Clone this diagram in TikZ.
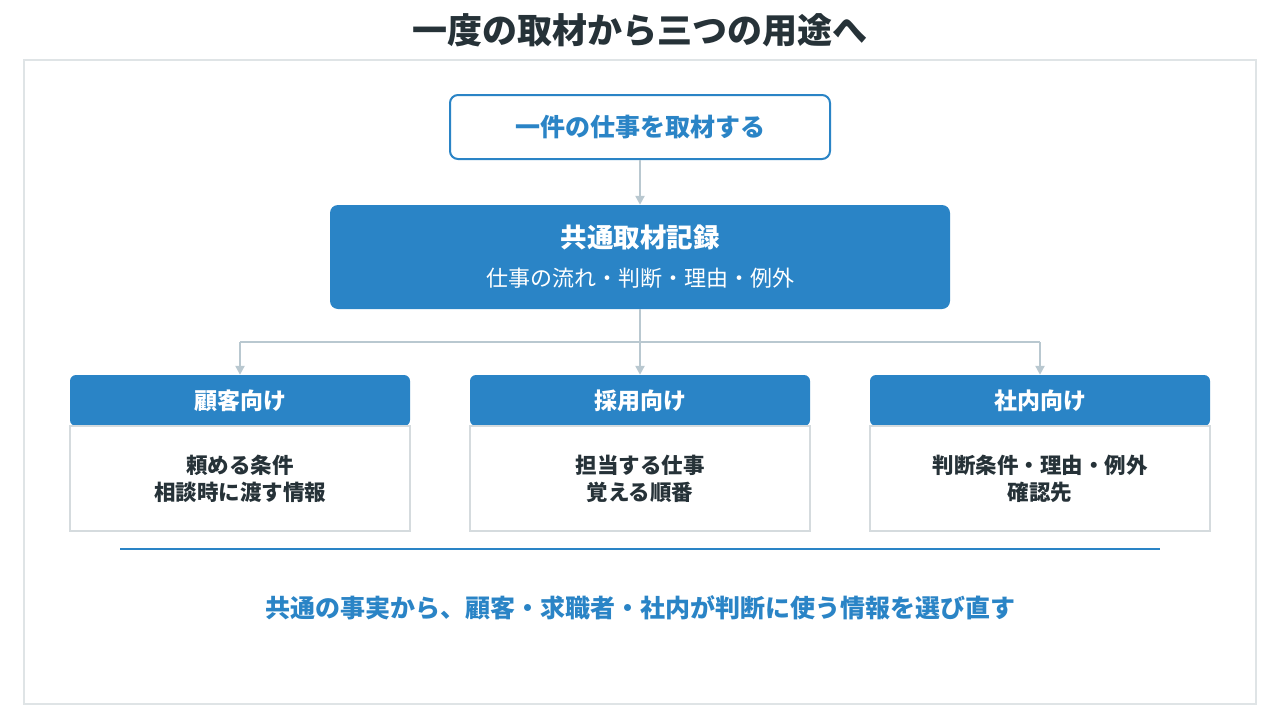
\documentclass[tikz,border=0pt]{standalone}
\usepackage{fontspec}
\setmainfont{Noto Sans CJK JP}
\usetikzlibrary{arrows.meta}
\definecolor{mainblue}{HTML}{2A84C6}
\definecolor{darktext}{HTML}{263238}
\definecolor{arrowgray}{HTML}{B9C8D0}
\definecolor{framegray}{HTML}{DFE4E6}
\definecolor{boxgray}{HTML}{D5DBDE}
\tikzset{
  x=1pt, y=-1pt,
  conn/.style={draw=arrowgray, line width=2.5pt, -{Triangle[length=9pt,width=9pt]}},
  line/.style={draw=arrowgray, line width=2.5pt},
  headbox/.style={fill=mainblue, rounded corners=6pt, minimum width=340pt, minimum height=51pt, text=white, font=\fontsize{23}{26}\selectfont\bfseries, inner sep=0pt},
  bodybox/.style={draw=boxgray, fill=white, line width=2pt, minimum width=340pt, minimum height=105pt, text=darktext, font=\fontsize{21.5}{27}\selectfont\bfseries, align=center, inner sep=0pt},
}
\begin{document}
\begin{tikzpicture}
\useasboundingbox (0,0) rectangle (1280,720);
\fill[white] (0,0) rectangle (1280,720);
\node[text=darktext, font=\fontsize{35}{38}\selectfont\bfseries] (title) at (640,30) {一度の取材から三つの用途へ};
\draw[framegray, line width=2pt] (24,60) rectangle (1256,704);
\node[draw=mainblue, line width=2pt, fill=white, rounded corners=8pt, minimum width=380pt, minimum height=64pt, inner sep=0pt, text=mainblue, font=\fontsize{25}{28}\selectfont\bfseries] (src) at (640,127) {一件の仕事を取材する};
\node[fill=mainblue, rounded corners=8pt, minimum width=620pt, minimum height=104pt, inner sep=0pt] (rec) at (640,257) {};
\node[text=white, font=\fontsize{26.5}{30}\selectfont\bfseries] (rect) at (640,237) {共通取材記録};
\node[text=white, font=\fontsize{22}{25}\selectfont] (recs) at (640,278) {仕事の流れ・判断・理由・例外};
\draw[conn] (src.south) -- (rec.north);
\node[headbox] (h1) at (240,400.5) {顧客向け};
\node[headbox] (h2) at (640,400.5) {採用向け};
\node[headbox] (h3) at (1040,400.5) {社内向け};
\node[bodybox] (b1) at (240,478.5) {頼める条件\\相談時に渡す情報};
\node[bodybox] (b2) at (640,478.5) {担当する仕事\\覚える順番};
\node[bodybox] (b3) at (1040,478.5) {判断条件・理由・例外\\確認先};
\coordinate (j) at (640,342);
\coordinate (jl) at (240,342);
\coordinate (jr) at (1040,342);
\draw[line] (rec.south) -- (j);
\draw[line] (jl) -- (jr);
\draw[conn] (j) -- (h2.north);
\draw[conn] (jl) -- (h1.north);
\draw[conn] (jr) -- (h3.north);
\coordinate (sl) at (120,549);
\coordinate (sr) at (1160,549);
\draw[mainblue, line width=1.5pt] (sl) -- (sr);
\node[text=mainblue, font=\fontsize{25}{28}\selectfont\bfseries] (foot) at (640,608) {共通の事実から、顧客・求職者・社内が判断に使う情報を選び直す};
\end{tikzpicture}
\end{document}
